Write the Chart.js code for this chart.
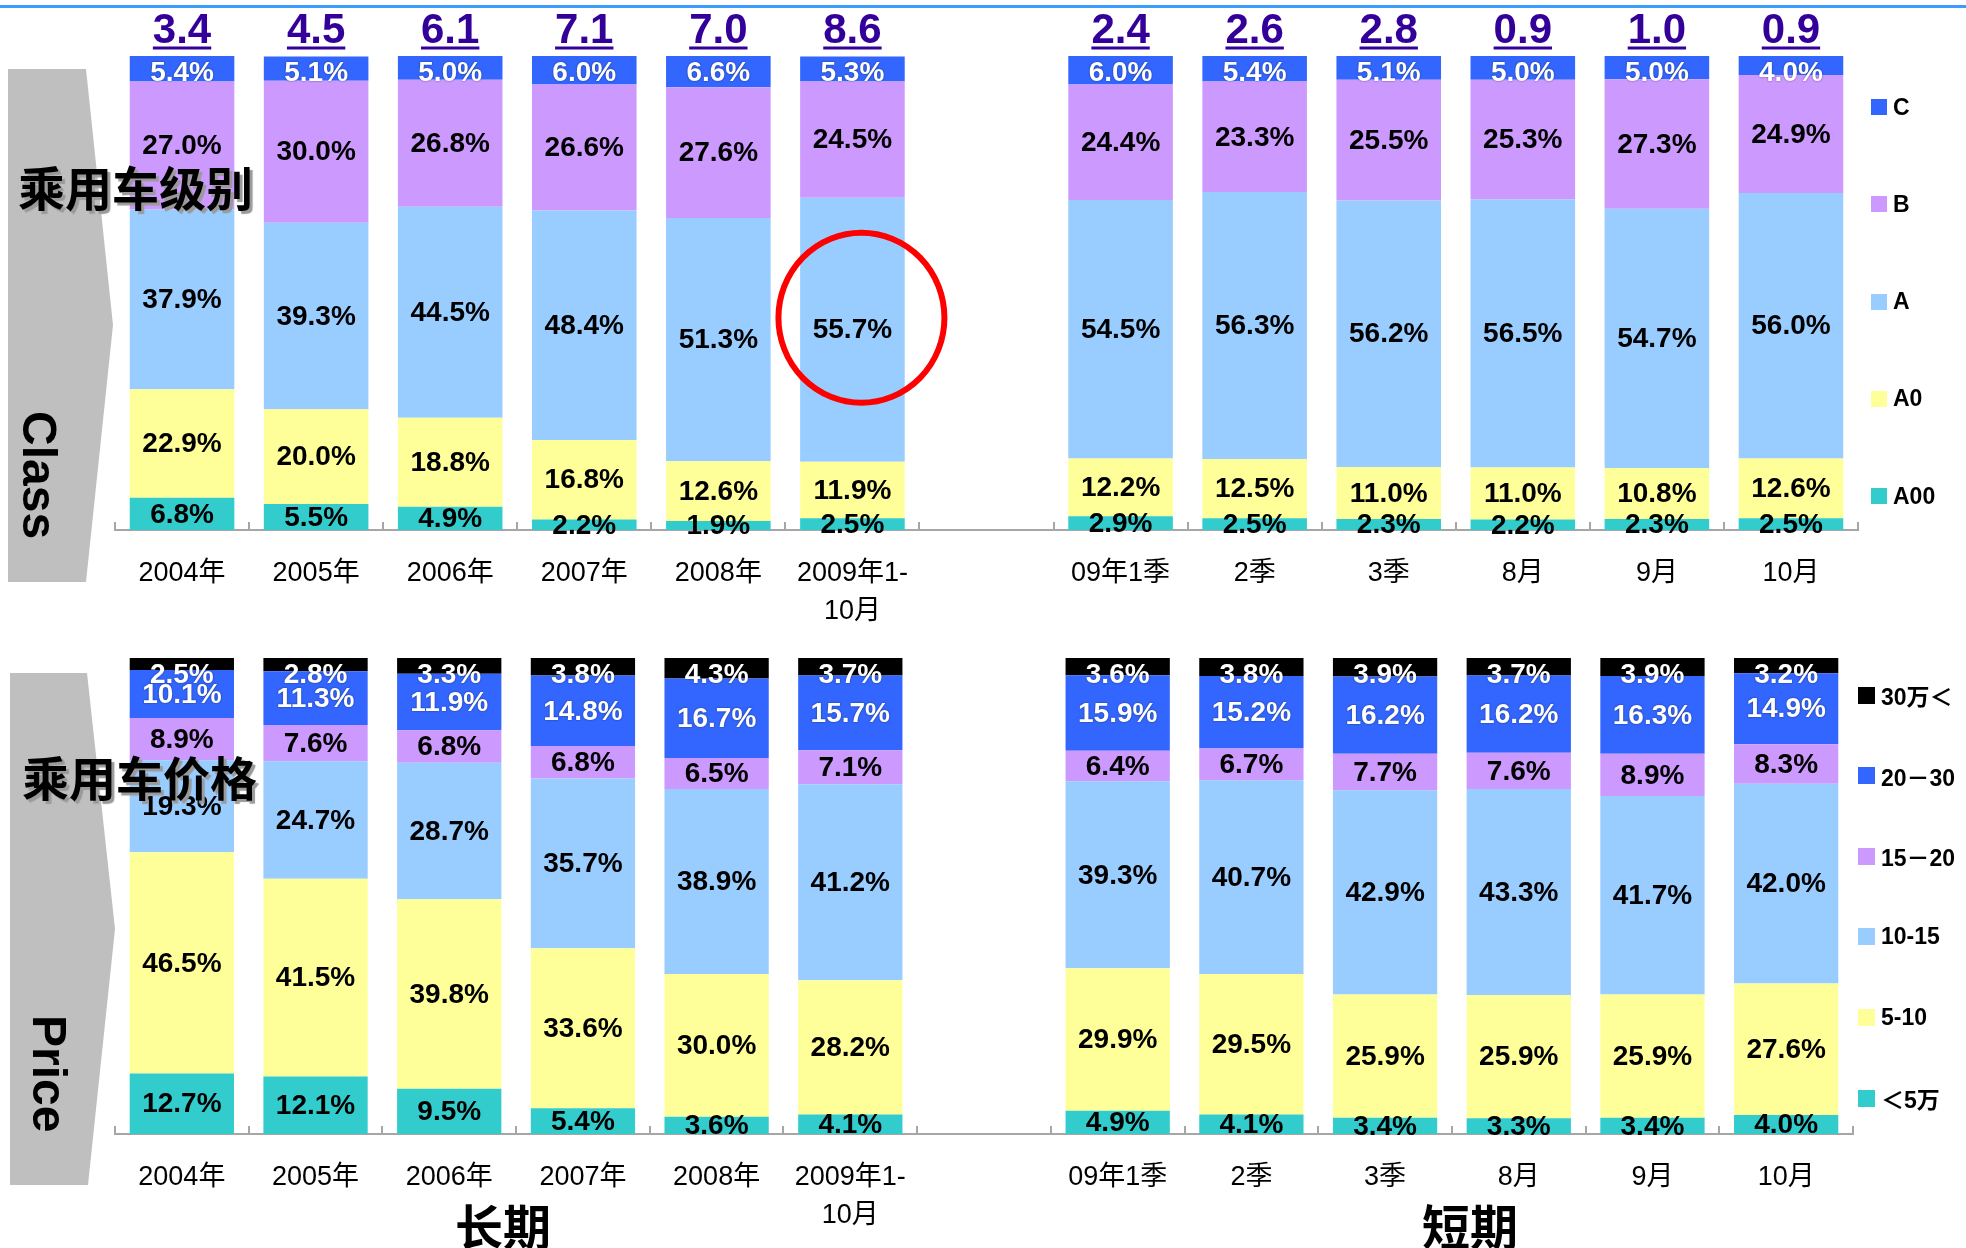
<!DOCTYPE html>
<html>
<head>
<meta charset="utf-8">
<script src="https://cdn.jsdelivr.net/npm/chart.js@4.4.0/dist/chart.umd.min.js"></script>
<style>
  body { margin: 0; background: #fff; }
  #wrap { position: relative; width: 1966px; height: 1248px; overflow: hidden; background: #fff;
          font-family: "Liberation Sans", Arial, "Noto Sans CJK SC", sans-serif; }
  #wrap canvas, #wrap svg, #wrap .txt, #wrap .leg { position: absolute; }
  .topline { position: absolute; left: 0; top: 5px; width: 1966px; height: 3px; background: #3d9bff; }
  .cn { font-family: "Noto Sans CJK SC", sans-serif; font-weight: bold; font-size: 47px; line-height: 47px;
        color: #000; text-shadow: 3px 3px 1px #9a9a9a; white-space: nowrap; }
  .rot { font-weight: bold; font-size: 48px; line-height: 48px; color: #000; white-space: nowrap;
         transform-origin: 0 0; transform: rotate(90deg); }
  .period { font-family: "Noto Sans CJK SC", sans-serif; font-weight: bold; font-size: 48px; line-height: 48px;
            color: #000; width: 200px; text-align: center; }
  .leg { display: flex; align-items: center; font-weight: bold; font-size: 23px; color: #000; white-space: nowrap; }
  .leg span.box { display: inline-block; margin-right: 6px; }
</style>
</head>
<body>
<div id="wrap">
  <div class="topline"></div>
  <svg width="130" height="1248" style="left:0;top:0">
    <polygon points="8,69 86,69 113,325 86,582 8,582" fill="#bfbfbf"/>
    <polygon points="10,673 87,673 115,929 88,1185 10,1185" fill="#bfbfbf"/>
  </svg>
  <canvas id="classChart" width="1966" height="640" style="left:0;top:0"></canvas>
  <canvas id="priceChart" width="1966" height="628" style="left:0;top:620px"></canvas>
  <div class="txt cn" style="left:18px;top:162px">乘用车级别</div>
  <div class="txt cn" style="left:22px;top:752px">乘用车价格</div>
  <div class="txt rot" style="left:63px;top:411px">Class</div>
  <div class="txt rot" style="left:73px;top:1015px">Price</div>
  <div class="txt period" style="left:403px;top:1200px">长期</div>
  <div class="txt period" style="left:1370px;top:1200px">短期</div>
</div>
<script>
// categories (the empty one separates long term from short term)
const periodLabels = ["2004年", "2005年", "2006年", "2007年", "2008年", ["2009年1-", "10月"], "",
  "09年1季", "2季", "3季", "8月", "9月", "10月"];

// passenger car sales totals shown above the class bars
const classTotals = [3.4, 4.5, 6.1, 7.1, 7.0, 8.6, null, 2.4, 2.6, 2.8, 0.9, 1.0, 0.9];

// class shares, %
const classA00 = [6.8, 5.5, 4.9, 2.2, 1.9, 2.5, null, 2.9, 2.5, 2.3, 2.2, 2.3, 2.5];
const classA0 = [22.9, 20.0, 18.8, 16.8, 12.6, 11.9, null, 12.2, 12.5, 11.0, 11.0, 10.8, 12.6];
const classA = [37.9, 39.3, 44.5, 48.4, 51.3, 55.7, null, 54.5, 56.3, 56.2, 56.5, 54.7, 56.0];
const classB = [27.0, 30.0, 26.8, 26.6, 27.6, 24.5, null, 24.4, 23.3, 25.5, 25.3, 27.3, 24.9];
const classC = [5.4, 5.1, 5.0, 6.0, 6.6, 5.3, null, 6.0, 5.4, 5.1, 5.0, 5.0, 4.0];
const classNames = ["A00", "A0", "A", "B", "C"];

// price band shares, %
const priceUnder5 = [12.7, 12.1, 9.5, 5.4, 3.6, 4.1, null, 4.9, 4.1, 3.4, 3.3, 3.4, 4.0];
const price5to10 = [46.5, 41.5, 39.8, 33.6, 30.0, 28.2, null, 29.9, 29.5, 25.9, 25.9, 25.9, 27.6];
const price10to15 = [19.3, 24.7, 28.7, 35.7, 38.9, 41.2, null, 39.3, 40.7, 42.9, 43.3, 41.7, 42.0];
const price15to20 = [8.9, 7.6, 6.8, 6.8, 6.5, 7.1, null, 6.4, 6.7, 7.7, 7.6, 8.9, 8.3];
const price20to30 = [10.1, 11.3, 11.9, 14.8, 16.7, 15.7, null, 15.9, 15.2, 16.2, 16.2, 16.3, 14.9];
const price30up = [2.5, 2.8, 3.3, 3.8, 4.3, 3.7, null, 3.6, 3.8, 3.9, 3.7, 3.9, 3.2];
const priceNames = ["＜5万", "5-10", "10-15", "15－20", "20－30", "30万＜"];

const classColors = ["#33cccc", "#ffff99", "#99ccff", "#cc99ff", "#3366ff"];
const classTextColors = ["#000", "#000", "#000", "#000", "#fff"];
const priceColors = ["#33cccc", "#ffff99", "#99ccff", "#cc99ff", "#3366ff", "#000000"];
const priceTextColors = ["#000", "#000", "#000", "#000", "#fff", "#fff"];

Chart.defaults.font.family = "'Liberation Sans', Arial, 'Noto Sans CJK SC', sans-serif";

function makeDatasets(series, names, colors) {
  return series.map((data, i) => ({
    label: names[i],
    data: data,
    backgroundColor: colors[i],
    borderWidth: 0,
    barPercentage: 0.78,
    categoryPercentage: 1,
  }));
}

function panelPlugin(cfg) {
  return {
    id: "panel",
    beforeDatasetsDraw(chart) {
      const ctx = chart.ctx;
      const x = chart.scales.x;
      const area = chart.chartArea;
      const step = x.getPixelForValue(1) - x.getPixelForValue(0);
      ctx.save();
      ctx.strokeStyle = "#a6a6a6";
      ctx.lineWidth = 2;
      for (let i = 0; i <= chart.data.labels.length; i++) {
        const px = Math.round(x.getPixelForValue(i) - step / 2);
        ctx.beginPath();
        ctx.moveTo(px, area.bottom - 8);
        ctx.lineTo(px, area.bottom);
        ctx.stroke();
      }
      ctx.restore();
    },
    afterDatasetsDraw(chart) {
      const ctx = chart.ctx;
      const area = chart.chartArea;
      ctx.save();
      ctx.font = "bold 28px 'Liberation Sans', Arial, sans-serif";
      ctx.textAlign = "center";
      ctx.textBaseline = "middle";
      chart.data.datasets.forEach((ds, di) => {
        const meta = chart.getDatasetMeta(di);
        meta.data.forEach((bar, i) => {
          const v = ds.data[i];
          if (v == null) return;
          let y = (bar.y + bar.base) / 2;
          y = Math.max(y, area.top + 16);
          ctx.fillStyle = cfg.textColors[di];
          if (cfg.textColors[di] === "#fff") {
            ctx.shadowColor = "rgba(0,0,0,0.55)";
            ctx.shadowBlur = 2;
          } else {
            ctx.shadowColor = "transparent";
          }
          ctx.fillText(v.toFixed(1) + "%", bar.x, y + 1);
        });
      });
      ctx.shadowColor = "transparent";

      if (cfg.totals) {
        const meta = chart.getDatasetMeta(0);
        ctx.font = "bold 42px 'Liberation Sans', Arial, sans-serif";
        ctx.textBaseline = "alphabetic";
        ctx.fillStyle = "#330099";
        cfg.totals.forEach((t, i) => {
          if (t == null) return;
          const bx = meta.data[i].x;
          const s = t.toFixed(1);
          const w = ctx.measureText(s).width;
          ctx.fillText(s, bx, area.top - 13);
          ctx.fillRect(bx - w / 2, area.top - 9.5, w, 3);
        });
      }

      if (cfg.circle) {
        const el = chart.getDatasetMeta(cfg.circle.dataset).data[cfg.circle.index];
        const cy = (el.y + el.base) / 2 - 12;
        ctx.strokeStyle = "#ff0000";
        ctx.lineWidth = 6;
        ctx.beginPath();
        ctx.ellipse(el.x + 9, cy, 83, 85, 0, 0, Math.PI * 2);
        ctx.stroke();
      }
      ctx.restore();
    },
  };
}

function makeChart(id, datasets, pad, axisHeight, cfg) {
  return new Chart(document.getElementById(id), {
    type: "bar",
    data: { labels: periodLabels, datasets: datasets },
    options: {
      responsive: false,
      animation: false,
      layout: { padding: pad },
      plugins: { legend: { display: false }, tooltip: { enabled: false } },
      scales: {
        x: {
          stacked: true,
          grid: { display: false, drawTicks: false },
          border: { display: true, color: "#a6a6a6", width: 2 },
          ticks: {
            color: "#000",
            padding: 25,
            maxRotation: 0,
            autoSkip: false,
            font: { size: 27, lineHeight: 1.4 },
          },
          afterFit: (scale) => { scale.height = axisHeight; },
        },
        y: { stacked: true, display: false, min: 0, max: 100 },
      },
    },
    plugins: [panelPlugin(cfg)],
  });
}

makeChart("classChart",
  makeDatasets([classA00, classA0, classA, classB, classC], classNames, classColors),
  { left: 115, right: 108, top: 56, bottom: 0 }, 110,
  { textColors: classTextColors, totals: classTotals, circle: { dataset: 2, index: 5 } });

makeChart("priceChart",
  makeDatasets([priceUnder5, price5to10, price10to15, price15to20, price20to30, price30up], priceNames, priceColors),
  { left: 115, right: 113, top: 38, bottom: 0 }, 114,
  { textColors: priceTextColors });

// legends, drawn top to bottom like the original
function addLegend(names, colors, x, y0, gap, box) {
  const wrap = document.getElementById("wrap");
  for (let i = names.length - 1, k = 0; i >= 0; i--, k++) {
    const d = document.createElement("div");
    d.className = "leg";
    d.style.left = x + "px";
    d.style.top = (y0 + k * gap - 15) + "px";
    d.style.height = "30px";
    d.innerHTML = '<span class="box" style="width:' + box + 'px;height:' + box + 'px;background:' +
      colors[i] + '"></span>' + names[i];
    wrap.appendChild(d);
  }
}
addLegend(classNames, classColors, 1871, 107, 97.3, 16);
addLegend(priceNames, priceColors, 1858, 695, 80.6, 17);
</script>
</body>
</html>
